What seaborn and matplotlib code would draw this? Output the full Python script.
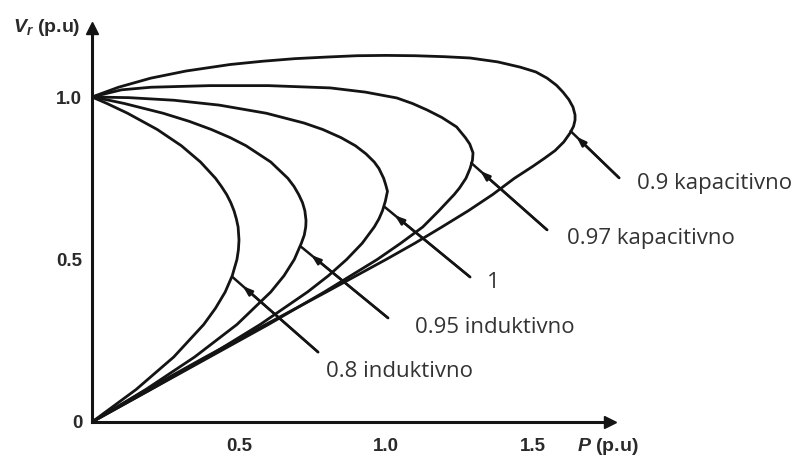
import matplotlib
matplotlib.use("Agg")
import matplotlib.pyplot as plt
import numpy as np
import pandas as pd
import seaborn as sns

# ---- data (P in p.u., V_r in p.u.) ----
curve_names = ["0.8 induktivno", "0.95 induktivno", "1", "0.97 kapacitivno", "0.9 kapacitivno"]

p_08 = [0.0, 0.051, 0.121, 0.222, 0.304, 0.369, 0.420, 0.440, 0.458, 0.472, 0.483, 0.491, 0.497, 0.500,
        0.498, 0.493, 0.477, 0.453, 0.420, 0.380, 0.278, 0.150, 0.0]
v_08 = [1.0, 0.98, 0.95, 0.9, 0.85, 0.8, 0.75, 0.725, 0.7, 0.675, 0.65, 0.625, 0.6, 0.56,
        0.53, 0.5, 0.45, 0.4, 0.35, 0.3, 0.2, 0.1, 0.0]

p_095 = [0.0, 0.058, 0.110, 0.242, 0.331, 0.406, 0.470, 0.524, 0.608, 0.666, 0.687, 0.703, 0.716, 0.724,
         0.728, 0.727, 0.722, 0.712, 0.688, 0.653, 0.608, 0.493, 0.349, 0.183, 0.0]
v_095 = [1.0, 0.99, 0.98, 0.95, 0.925, 0.9, 0.875, 0.85, 0.8, 0.75, 0.725, 0.7, 0.675, 0.65,
         0.62, 0.6, 0.575, 0.55, 0.5, 0.45, 0.4, 0.3, 0.2, 0.1, 0.0]

p_100 = [0.0, 0.126, 0.279, 0.433, 0.593, 0.721, 0.785, 0.847, 0.896, 0.932, 0.960, 0.976, 0.992,
         0.999, 1.005, 0.998, 0.988, 0.976, 0.960, 0.919, 0.866, 0.804, 0.733, 0.572, 0.392, 0.199, 0.0]
v_100 = [1.0, 0.998, 0.99, 0.975, 0.95, 0.92, 0.9, 0.875, 0.85, 0.825, 0.8, 0.78, 0.75,
         0.73, 0.71, 0.68, 0.65, 0.625, 0.6, 0.55, 0.5, 0.45, 0.4, 0.3, 0.2, 0.1, 0.0]

p_097 = [0.0, 0.1, 0.2, 0.4, 0.6, 0.81, 0.93, 1.037, 1.09, 1.14, 1.19, 1.24, 1.27, 1.285, 1.296,
         1.294, 1.286, 1.272, 1.25, 1.232, 1.18, 1.125, 1.05, 0.97, 0.79, 0.60, 0.40, 0.20, 0.0]
v_097 = [1.0, 1.022, 1.03, 1.035, 1.035, 1.028, 1.015, 0.997, 0.98, 0.96, 0.937, 0.908, 0.875, 0.855, 0.828,
         0.805, 0.78, 0.75, 0.72, 0.7, 0.65, 0.6, 0.55, 0.5, 0.4, 0.3, 0.2, 0.1, 0.0]

p_09 = [0.0, 0.09, 0.2, 0.32, 0.47, 0.58, 0.69, 0.8, 0.9, 1.0, 1.1, 1.2, 1.286, 1.38, 1.456, 1.51,
        1.548, 1.58, 1.602, 1.622, 1.636, 1.643, 1.643, 1.638, 1.626, 1.605, 1.575, 1.54, 1.50, 1.437,
        1.363, 1.28, 1.19, 1.098, 1.0, 0.797, 0.591, 0.386, 0.187, 0.0]
v_09 = [1.0, 1.03, 1.058, 1.08, 1.10, 1.11, 1.118, 1.123, 1.127, 1.128, 1.127, 1.124, 1.12, 1.108, 1.092, 1.077,
        1.058, 1.036, 1.015, 0.992, 0.969, 0.945, 0.929, 0.91, 0.889, 0.862, 0.835, 0.812, 0.787, 0.75,
        0.7, 0.65, 0.6, 0.55, 0.5, 0.4, 0.3, 0.2, 0.1, 0.0]

x_ticks = [0.5, 1.0, 1.5]
x_tick_labels = ["0.5", "1.0", "1.5"]
y_ticks = [0.0, 0.5, 1.0]
y_tick_labels = ["0", "0.5", "1.0"]

# annotation placement (text anchor, line start, line tip) in data units
label_text_xy = [(0.796, 0.154), (1.099, 0.292), (1.343, 0.428), (1.616, 0.566), (1.854, 0.735)]
label_line_start = [(0.769, 0.215), (1.007, 0.320), (1.286, 0.446), (1.548, 0.591), (1.793, 0.751)]
label_line_tip = [(0.478, 0.446), (0.710, 0.540), (0.995, 0.662), (1.290, 0.797), (1.628, 0.895)]

# ---- build long table ----
series = [(p_08, v_08), (p_095, v_095), (p_100, v_100), (p_097, v_097), (p_09, v_09)]
frames = []
for name, (pp, vv) in zip(curve_names, series):
    frames.append(pd.DataFrame({"P": pp, "V": vv, "curve": name, "order": range(len(pp))}))
df = pd.concat(frames, ignore_index=True)

sns.set_theme(style="white")
plt.rcParams["font.family"] = ["Liberation Sans", "DejaVu Sans"]
plt.rcParams["mathtext.fontset"] = "custom"
plt.rcParams["mathtext.it"] = "Liberation Sans:italic:bold"
plt.rcParams["mathtext.rm"] = "Liberation Sans:bold"

W, H = 806, 459
fig = plt.figure(figsize=(W / 100, H / 100), dpi=100)
fig.patch.set_facecolor("white")
ax = fig.add_axes([92 / W, 37 / H, 518 / W, 394 / H])
ax.set_facecolor("white")

ink = "#141414"
sns.lineplot(data=df, x="P", y="V", units="curve", estimator=None, sort=False,
             color=ink, lw=2.0, ax=ax, legend=False,
             solid_joinstyle="round", solid_capstyle="round")

ax.set_xlim(0, 518 / 294)
ax.set_ylim(0, 394 / 325)
ax.set_xlabel("")
ax.set_ylabel("")

for s in ["top", "right"]:
    ax.spines[s].set_visible(False)
for s in ["left", "bottom"]:
    ax.spines[s].set_linewidth(2.2)
    ax.spines[s].set_color(ink)

# arrow heads on axis ends
ax.plot(1, 0, ">", transform=ax.get_yaxis_transform(), clip_on=False, ms=9, color=ink)
ax.plot(0, 1, "^", transform=ax.get_xaxis_transform(), clip_on=False, ms=9, color=ink)

ax.set_xticks(x_ticks)
ax.set_xticklabels(x_tick_labels)
ax.set_yticks(y_ticks)
ax.set_yticklabels(y_tick_labels)
ax.tick_params(axis="x", length=3, width=2.5, direction="inout", color=ink, pad=10,
               labelsize=13.5, labelcolor="#2a2a2a")
ax.tick_params(axis="y", length=3, width=2.5, direction="out", color=ink, pad=4,
               labelsize=13.5, labelcolor="#2a2a2a")
for lab in ax.get_xticklabels() + ax.get_yticklabels():
    lab.set_fontweight("bold")

# axis titles
fig.text(13 / W, 1 - 32 / H, r"$V_r$ (p.u)", fontsize=14, fontweight="bold",
         color="#2a2a2a", va="baseline", ha="left")
fig.text(577 / W, 1 - 451 / H, r"$P$ (p.u)", fontsize=14, fontweight="bold",
         color="#2a2a2a", va="baseline", ha="left")

# annotations
for name, txy, st, tip in zip(curve_names, label_text_xy, label_line_start, label_line_tip):
    ax.annotate("", xy=tip, xytext=st, annotation_clip=False,
                arrowprops=dict(arrowstyle="-", lw=1.8, color=ink, shrinkA=0, shrinkB=0))
    head = (st[0] + 0.88 * (tip[0] - st[0]), st[1] + 0.88 * (tip[1] - st[1]))
    ax.annotate("", xy=head, xytext=st, annotation_clip=False,
                arrowprops=dict(arrowstyle="-|>,head_length=0.45,head_width=0.16",
                                lw=1.8, color=ink, shrinkA=0, shrinkB=0))
    ax.text(txy[0], txy[1], name, fontsize=16, color="#333333", ha="left", va="center",
            family=["Open Sans", "DejaVu Sans"], clip_on=False)

fig.savefig("out.png", dpi=100, facecolor="white")
